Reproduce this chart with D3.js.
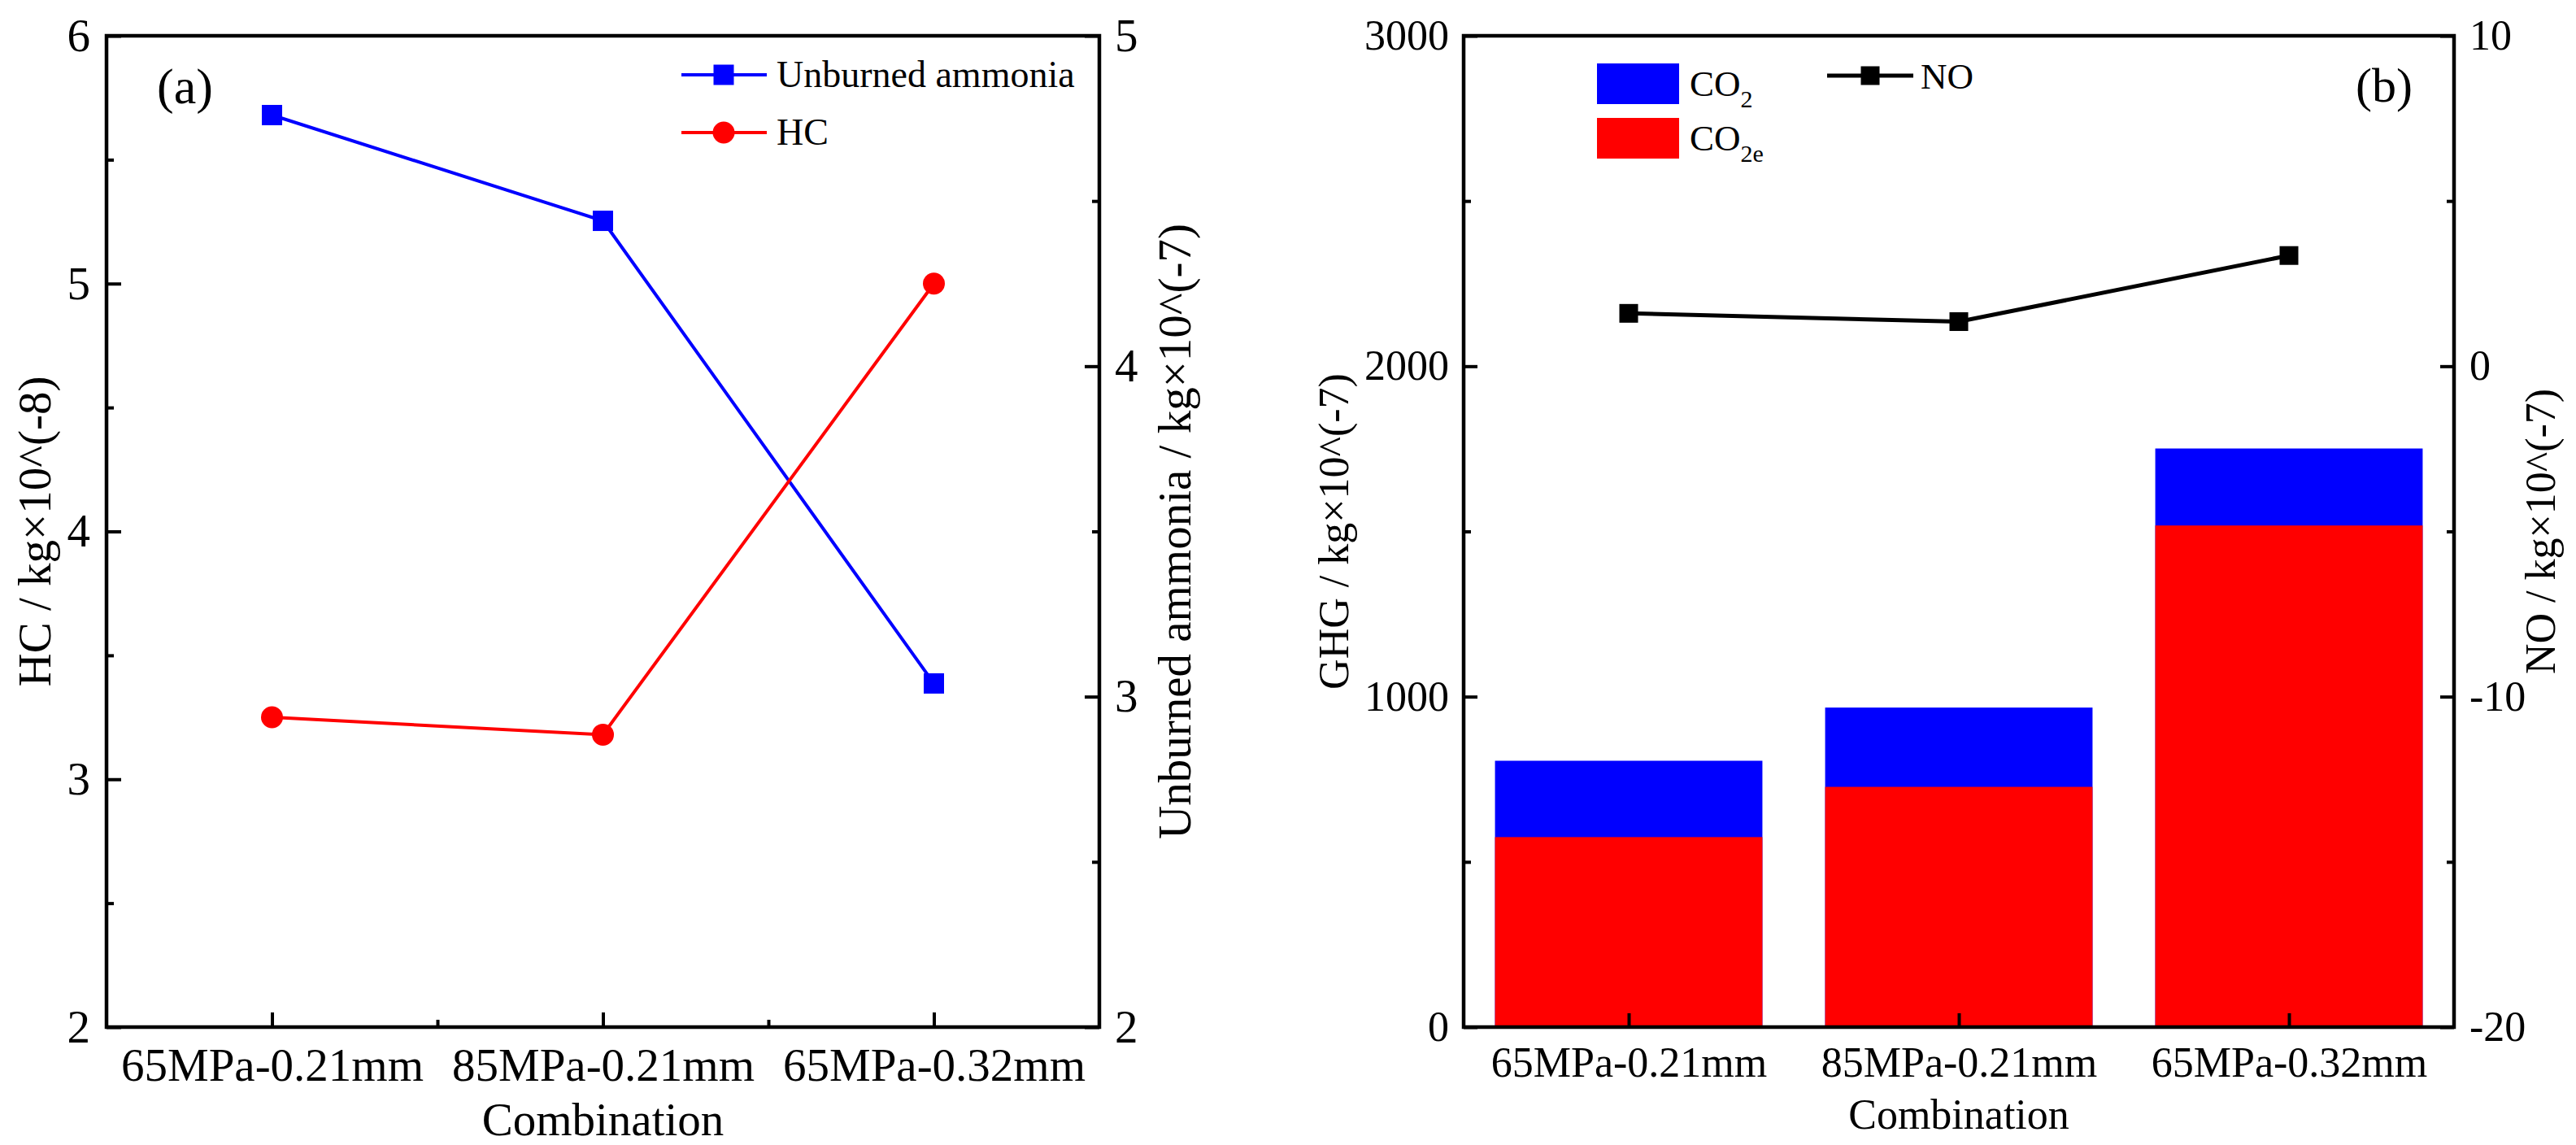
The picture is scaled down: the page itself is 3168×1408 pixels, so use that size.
<!DOCTYPE html>
<html>
<head>
<meta charset="utf-8">
<script src="https://cdn.jsdelivr.net/npm/d3@7"></script>
<style>
  body { margin: 0; background: #fff; }
  svg { display: block; }
  svg text { font-family: "Liberation Serif", "Times New Roman", serif; }
</style>
</head>
<body>
<svg id="chart" width="3168" height="1408"></svg>
<script>
// ── Data ──
const categories = ['65MPa-0.21mm', '85MPa-0.21mm', '65MPa-0.32mm'];

// panel (a)
const hcValues = [3.25, 3.18, 5.0];        // left axis, kg×10^(-8)
const ammoniaValues = [4.76, 4.44, 3.04];  // right axis, kg×10^(-7)
const hcTicks = [2, 3, 4, 5, 6];
const ammoniaTicks = [2, 3, 4, 5];

// panel (b)
const co2Values = [806, 967, 1751];
const co2eValues = [575, 727, 1518];
const noValues = [1.6, 1.35, 3.35];
const ghgTicks = [0, 1000, 2000, 3000];
const noTicks = [-20, -10, 0, 10];

const FONT = 'Liberation Serif';
const BLUE = '#0000ff';
const RED = '#ff0000';
const fmt = d => String(d);

const svg = d3.select('#chart');

// shared helpers
function frame(p) {
  svg.append('rect')
    .attr('x', p.left).attr('y', p.top)
    .attr('width', p.right - p.left).attr('height', p.bottom - p.top)
    .attr('fill', 'none').attr('stroke', '#000').attr('stroke-width', 4.5);
}

function styleAxis(g, size) {
  g.select('.domain').remove();
  g.attr('font-family', FONT).attr('font-size', size);
  g.selectAll('line').attr('stroke', '#000').attr('stroke-width', 4);
  g.selectAll('text').attr('fill', '#000');
  return g;
}

function minorTicks(axisFn, scale, values, transform) {
  const g = svg.append('g')
    .attr('transform', transform)
    .call(axisFn(scale).tickValues(values).tickSize(-9).tickFormat(''));
  styleAxis(g, 10);
}

function yLabel(text, x, cy, size) {
  svg.append('text')
    .attr('transform', `translate(${x},${cy}) rotate(-90)`)
    .attr('text-anchor', 'middle')
    .attr('dominant-baseline', 'central')
    .attr('font-family', FONT)
    .attr('font-size', size)
    .text(text);
}

// ─── Panel (a) ──────────────────────────────────────────────
const A = { left: 131, right: 1352, top: 44, bottom: 1263 };
const fa = 57;

const xA = d3.scaleLinear().domain([0.5, 3.5]).range([A.left, A.right]);
const yHC = d3.scaleLinear().domain([2, 6]).range([A.bottom, A.top]);
const yNH3 = d3.scaleLinear().domain([2, 5]).range([A.bottom, A.top]);

frame(A);

styleAxis(svg.append('g')
  .attr('transform', `translate(${A.left},0)`)
  .call(d3.axisLeft(yHC).tickValues(hcTicks).tickFormat(fmt).tickSize(-18).tickPadding(20)), fa);
minorTicks(d3.axisLeft, yHC, d3.range(2.5, 6, 1), `translate(${A.left},0)`);

styleAxis(svg.append('g')
  .attr('transform', `translate(${A.right},0)`)
  .call(d3.axisRight(yNH3).tickValues(ammoniaTicks).tickFormat(fmt).tickSize(-18).tickPadding(19)), fa);
minorTicks(d3.axisRight, yNH3, d3.range(2.5, 5, 1), `translate(${A.right},0)`);

styleAxis(svg.append('g')
  .attr('transform', `translate(0,${A.bottom})`)
  .call(d3.axisBottom(xA).tickValues([1, 2, 3]).tickSize(-18).tickPadding(26)
    .tickFormat(i => categories[i - 1])), fa);
minorTicks(d3.axisBottom, xA, [1.5, 2.5], `translate(0,${A.bottom})`);

svg.append('text')
  .attr('x', (A.left + A.right) / 2).attr('y', 1396)
  .attr('text-anchor', 'middle')
  .attr('font-family', FONT).attr('font-size', fa)
  .text('Combination');

yLabel('HC / kg×10^(-8)', 42, (A.top + A.bottom) / 2, fa);
yLabel('Unburned ammonia / kg×10^(-7)', 1444, (A.top + A.bottom) / 2, fa);

// lines
const ammoniaPts = ammoniaValues.map((v, i) => [xA(i + 1), yNH3(v)]);
const hcPts = hcValues.map((v, i) => [xA(i + 1), yHC(v)]);

svg.append('path').datum(ammoniaPts)
  .attr('d', d3.line()).attr('fill', 'none')
  .attr('stroke', BLUE).attr('stroke-width', 4);
svg.append('path').datum(hcPts)
  .attr('d', d3.line()).attr('fill', 'none')
  .attr('stroke', RED).attr('stroke-width', 4);

svg.selectAll('.nh3-pt').data(ammoniaPts).enter().append('rect')
  .attr('x', d => d[0] - 12.5).attr('y', d => d[1] - 12.5)
  .attr('width', 25).attr('height', 25).attr('fill', BLUE);
svg.selectAll('.hc-pt').data(hcPts).enter().append('circle')
  .attr('cx', d => d[0]).attr('cy', d => d[1])
  .attr('r', 13.5).attr('fill', RED);

// legend (a)
const legA = [
  { name: 'Unburned ammonia', color: BLUE, shape: 'square', y: 92 },
  { name: 'HC', color: RED, shape: 'circle', y: 163 },
];
for (const d of legA) {
  svg.append('line')
    .attr('x1', 838).attr('x2', 943).attr('y1', d.y).attr('y2', d.y)
    .attr('stroke', d.color).attr('stroke-width', 4);
  if (d.shape === 'square') {
    svg.append('rect').attr('x', 890 - 12.5).attr('y', d.y - 12.5)
      .attr('width', 25).attr('height', 25).attr('fill', d.color);
  } else {
    svg.append('circle').attr('cx', 890).attr('cy', d.y).attr('r', 13.5).attr('fill', d.color);
  }
  svg.append('text')
    .attr('x', 955).attr('y', d.y + 15)
    .attr('font-family', FONT).attr('font-size', 46)
    .text(d.name);
}

svg.append('text')
  .attr('x', 193).attr('y', 127)
  .attr('font-family', FONT).attr('font-size', 62)
  .text('(a)');

// ─── Panel (b) ──────────────────────────────────────────────
const B = { left: 1800, right: 3018, top: 44, bottom: 1263 };
const fb = 52;

const xB = d3.scaleLinear().domain([0.5, 3.5]).range([B.left, B.right]);
const yGHG = d3.scaleLinear().domain([0, 3000]).range([B.bottom, B.top]);
const yNO = d3.scaleLinear().domain([-20, 10]).range([B.bottom, B.top]);
const barHalf = 0.405;

// bars: CO2 behind, CO2e in front
svg.selectAll('.co2-bar').data(co2Values).enter().append('rect')
  .attr('x', (d, i) => xB(i + 1 - barHalf))
  .attr('width', (d, i) => xB(i + 1 + barHalf) - xB(i + 1 - barHalf))
  .attr('y', d => yGHG(d))
  .attr('height', d => yGHG(0) - yGHG(d))
  .attr('fill', BLUE);
svg.selectAll('.co2e-bar').data(co2eValues).enter().append('rect')
  .attr('x', (d, i) => xB(i + 1 - barHalf))
  .attr('width', (d, i) => xB(i + 1 + barHalf) - xB(i + 1 - barHalf))
  .attr('y', d => yGHG(d))
  .attr('height', d => yGHG(0) - yGHG(d))
  .attr('fill', RED);

frame(B);

styleAxis(svg.append('g')
  .attr('transform', `translate(${B.left},0)`)
  .call(d3.axisLeft(yGHG).tickValues(ghgTicks).tickFormat(fmt).tickSize(-17).tickPadding(18)), fb);
minorTicks(d3.axisLeft, yGHG, d3.range(500, 3000, 1000), `translate(${B.left},0)`);

styleAxis(svg.append('g')
  .attr('transform', `translate(${B.right},0)`)
  .call(d3.axisRight(yNO).tickValues(noTicks).tickFormat(fmt).tickSize(-17).tickPadding(19)), fb);
minorTicks(d3.axisRight, yNO, d3.range(-15, 10, 10), `translate(${B.right},0)`);

styleAxis(svg.append('g')
  .attr('transform', `translate(0,${B.bottom})`)
  .call(d3.axisBottom(xB).tickValues([1, 2, 3]).tickSize(-17).tickPadding(24)
    .tickFormat(i => categories[i - 1])), fb);

svg.append('text')
  .attr('x', (B.left + B.right) / 2).attr('y', 1388)
  .attr('text-anchor', 'middle')
  .attr('font-family', FONT).attr('font-size', fb)
  .text('Combination');

yLabel('GHG / kg×10^(-7)', 1640, (B.top + B.bottom) / 2, fb);
yLabel('NO / kg×10^(-7)', 3124, (B.top + B.bottom) / 2, fb);

// NO line
const noPts = noValues.map((v, i) => [xB(i + 1), yNO(v)]);
svg.append('path').datum(noPts)
  .attr('d', d3.line()).attr('fill', 'none')
  .attr('stroke', '#000').attr('stroke-width', 5);
svg.selectAll('.no-pt').data(noPts).enter().append('rect')
  .attr('x', d => d[0] - 11.5).attr('y', d => d[1] - 11.5)
  .attr('width', 23).attr('height', 23).attr('fill', '#000');

// legend (b)
const legB = [
  { main: 'CO', sub: '2', color: BLUE, y0: 78 },
  { main: 'CO', sub: '2e', color: RED, y0: 145 },
];
for (const d of legB) {
  svg.append('rect')
    .attr('x', 1964).attr('y', d.y0).attr('width', 101).attr('height', 50)
    .attr('fill', d.color);
  const t = svg.append('text')
    .attr('x', 2078).attr('y', d.y0 + 40)
    .attr('font-family', FONT).attr('font-size', 45);
  t.append('tspan').text(d.main);
  t.append('tspan').attr('dy', 14).attr('font-size', 30).text(d.sub);
}

svg.append('line')
  .attr('x1', 2247).attr('x2', 2353).attr('y1', 93).attr('y2', 93)
  .attr('stroke', '#000').attr('stroke-width', 5);
svg.append('rect')
  .attr('x', 2300 - 11.5).attr('y', 93 - 11.5).attr('width', 23).attr('height', 23)
  .attr('fill', '#000');
svg.append('text')
  .attr('x', 2362).attr('y', 109)
  .attr('font-family', FONT).attr('font-size', 45)
  .text('NO');

svg.append('text')
  .attr('x', 2897).attr('y', 125)
  .attr('font-family', FONT).attr('font-size', 60)
  .text('(b)');
</script>
</body>
</html>
